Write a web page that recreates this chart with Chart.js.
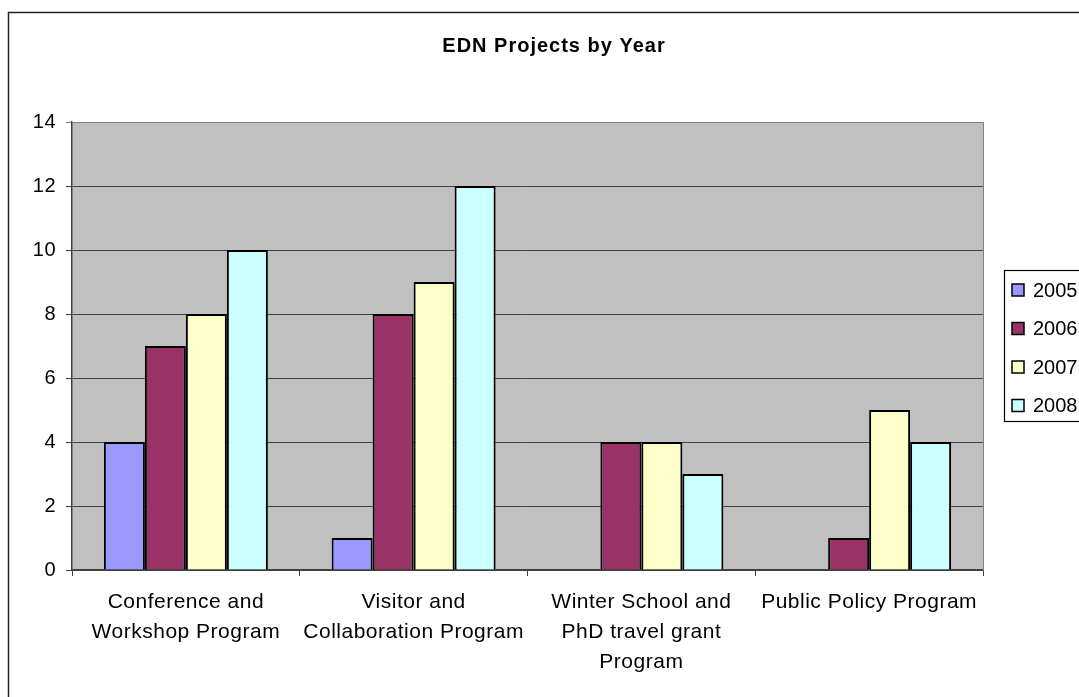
<!DOCTYPE html>
<html><head><meta charset="utf-8">
<script src="https://cdn.jsdelivr.net/npm/chart.js@4.4.0/dist/chart.umd.min.js"></script>
<style>html,body{margin:0;padding:0;background:#fff;overflow:hidden}#wrap{width:1079px;height:697px;position:relative}</style>
</head><body><div id="wrap"><canvas id="c" width="1079" height="697"></canvas></div>
<script>
const chartTitle = 'EDN Projects by Year';
const categories = [['Conference and','Workshop Program'],['Visitor and','Collaboration Program'],['Winter School and','PhD travel grant','Program'],['Public Policy Program']];
const seriesNames = ['2005','2006','2007','2008'];
const values2005 = [4, 1, 0, 0];
const values2006 = [7, 8, 4, 1];
const values2007 = [8, 9, 4, 5];
const values2008 = [10, 12, 3, 4];
const yTicks = [0, 2, 4, 6, 8, 10, 12, 14];
const seriesColors = ['#9999FF', '#993366', '#FFFFCC', '#CCFFFF'];

const FONT = '"Liberation Sans", Arial, Helvetica, sans-serif';
Chart.defaults.font.family = FONT;
Chart.defaults.color = '#000';

const allValues = [values2005, values2006, values2007, values2008];

const decor = {
  id: 'decor',
  beforeDraw(chart) {
    const {ctx, chartArea: a} = chart;
    ctx.letterSpacing = '0.5px';
    ctx.save();
    ctx.fillStyle = '#fff';
    ctx.fillRect(0, 0, chart.width, chart.height);
    ctx.fillStyle = '#C0C0C0';
    ctx.fillRect(a.left, a.top, a.right - a.left, a.bottom - a.top);
    ctx.restore();
  },
  afterDraw(chart) {
    const {ctx, chartArea: a} = chart;
    ctx.save();
    ctx.strokeStyle = '#808080';
    ctx.lineWidth = 1;
    ctx.beginPath();
    ctx.moveTo(a.left, a.top + 0.5);
    ctx.lineTo(a.right + 0.5, a.top + 0.5);
    ctx.lineTo(a.right + 0.5, a.bottom);
    ctx.stroke();
    // outer chart frame
    ctx.strokeStyle = '#222';
    ctx.lineWidth = 1.5;
    ctx.strokeRect(8.5, 12.5, chart.width + 40, chart.height + 40);
    // title
    ctx.letterSpacing = '1px';
    ctx.font = 'bold 20px ' + FONT;
    ctx.fillStyle = '#000';
    ctx.textAlign = 'center';
    ctx.textBaseline = 'alphabetic';
    ctx.fillText(chartTitle, 554, 52);
    // legend
    ctx.letterSpacing = '0px';
    ctx.strokeStyle = '#000';
    ctx.lineWidth = 1.2;
    ctx.strokeRect(1004.5, 270.5, 200, 151);
    chart.data.datasets.forEach((ds, i) => {
      const cy = 290 + i * 38.5;
      ctx.fillStyle = ds.backgroundColor;
      ctx.fillRect(1012, cy - 6, 12, 12);
      ctx.strokeStyle = '#000';
      ctx.lineWidth = 1.5;
      ctx.strokeRect(1012, cy - 6, 12, 12);
      ctx.fillStyle = '#000';
      ctx.font = '20px ' + FONT;
      ctx.textAlign = 'left';
      ctx.textBaseline = 'middle';
      ctx.fillText(ds.label, 1033, cy + 1);
    });
    ctx.restore();
  }
};

new Chart(document.getElementById('c'), {
  type: 'bar',
  data: {
    labels: categories,
    datasets: seriesNames.map((name, i) => ({
      label: name,
      data: allValues[i],
      backgroundColor: seriesColors[i],
      borderColor: '#000',
      borderWidth: 2,
      categoryPercentage: 0.72,
      barPercentage: 1.0
    }))
  },
  options: {
    responsive: false,
    animation: false,
    devicePixelRatio: 1,
    layout: { padding: { left: 0, top: 122, right: 96, bottom: 0 } },
    plugins: { legend: { display: false }, title: { display: false }, tooltip: { enabled: false } },
    scales: {
      x: {
        afterFit(s) { s.height = 127; },
        grid: { display: true, drawOnChartArea: false, drawTicks: true, tickLength: 6, color: '#404040', offset: true },
        border: { display: true, color: '#404040', width: 1.5 },
        ticks: { color: '#000', font: { size: 21, lineHeight: 1.43 }, padding: 11, maxRotation: 0, autoSkip: false }
      },
      y: {
        min: 0, max: 14,
        afterFit(s) { s.width = 72; },
        afterBuildTicks(s) { s.ticks = yTicks.map(v => ({ value: v })); },
        grid: {
          color: c => (c.tick && c.tick.value === 14) ? '#808080' : '#404040',
          lineWidth: 1, tickLength: 6, drawTicks: true
        },
        border: { display: true, color: '#404040', width: 1.5 },
        ticks: { color: '#000', font: { size: 20 }, padding: 10 }
      }
    }
  },
  plugins: [decor]
});
</script></body></html>
